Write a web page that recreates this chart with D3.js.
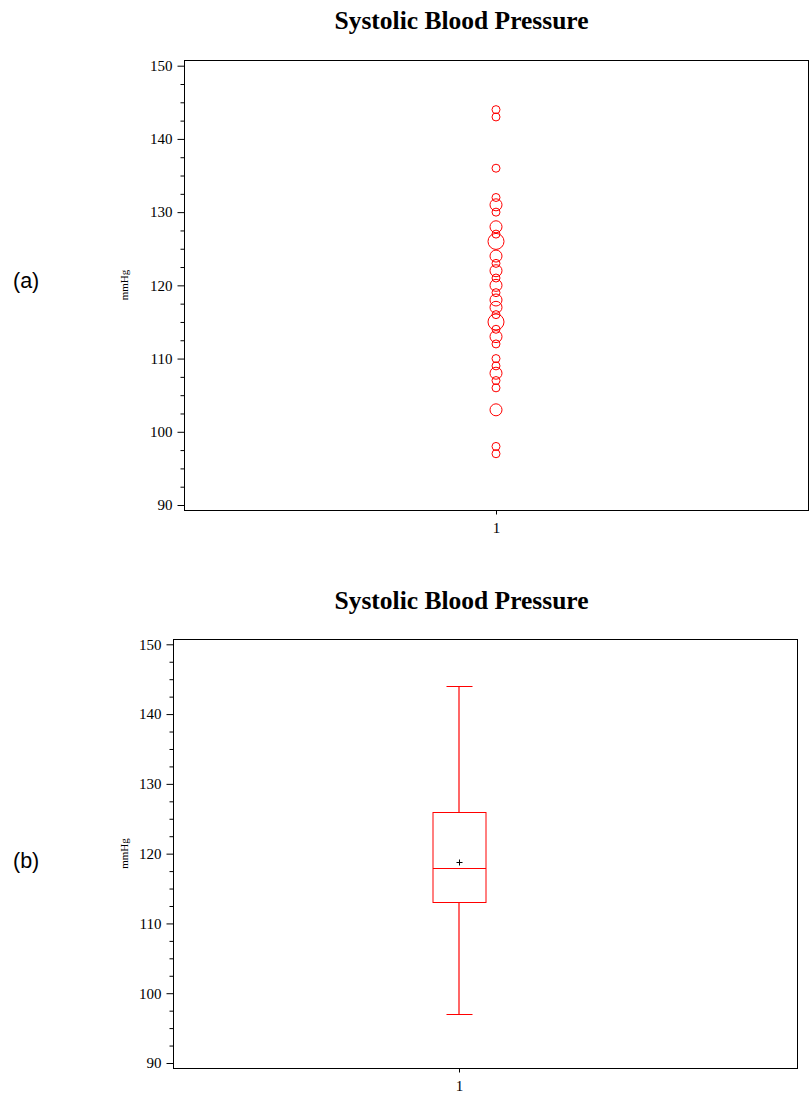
<!DOCTYPE html>
<html>
<head>
<meta charset="utf-8">
<script src="https://cdn.jsdelivr.net/npm/d3@7/dist/d3.min.js"></script>
<style>
  html, body { margin: 0; padding: 0; background: #fff; }
  svg { display: block; }
</style>
</head>
<body>
<svg id="chart" width="809" height="1104"></svg>
<script>
// ---------------- DATA ----------------
const title = "Systolic Blood Pressure";
const yLabel = "mmHg";
const categories = ["1"];
const majorTicks = [90, 100, 110, 120, 130, 140, 150];
// scatter: distinct observed values and how many times each occurs
const bpValues = [144, 143, 136, 132, 131, 130, 128, 127, 126, 124, 123, 122, 121, 120, 119,
                  118, 117, 116, 115, 114, 113, 112, 110, 109, 108, 107, 106, 103, 98, 97];
const bpCounts = [1, 1, 1, 1, 2, 1, 2, 1, 3, 2, 1, 2, 1, 2, 1,
                  2, 2, 1, 3, 1, 2, 1, 1, 1, 2, 1, 1, 2, 1, 1];
// box plot summary
const boxMin = [97];
const boxQ1 = [113];
const boxMedian = [118];
const boxQ3 = [126];
const boxMax = [144];
const boxMean = [118.8];

// ---------------- DRAW ----------------
const svg = d3.select("#chart");
const red = "#ff0000";
const serif = "'Liberation Serif', 'Times New Roman', serif";
const sans = "'Liberation Sans', Arial, sans-serif";
const minorTicks = d3.range(90, 150.01, 2.5).filter(v => !majorTicks.includes(v));

function panel(cfg) {
  const g = svg.append("g");
  const y = d3.scaleLinear().domain([90, 150]).range([cfg.y90, cfg.y150]);
  const x = d3.scalePoint().domain(categories).range([cfg.left, cfg.catRight]);

  // title
  g.append("text").attr("x", 461.5).attr("y", cfg.titleY)
    .attr("text-anchor", "middle").attr("font-family", serif)
    .attr("font-weight", "bold").attr("font-size", 25.5).text(title);

  // panel letter
  g.append("text").attr("x", 13).attr("y", cfg.letterY)
    .attr("font-family", sans).attr("font-size", 21.5).text(cfg.letter);

  // frame
  g.append("rect").attr("x", cfg.left + 0.5).attr("y", cfg.top + 0.5)
    .attr("width", cfg.right - cfg.left - 1).attr("height", cfg.bottom - cfg.top)
    .attr("fill", "none").attr("stroke", "#000").attr("stroke-width", 1);

  // y axis major
  const yAxis = d3.axisLeft(y).tickValues(majorTicks).tickSize(7).tickPadding(5).tickFormat(d3.format("d"));
  const ya = g.append("g").attr("transform", `translate(${cfg.left + 0.5},0)`).call(yAxis);
  ya.select(".domain").remove();
  ya.selectAll("text").attr("font-family", serif).attr("font-size", 15).attr("fill", "#000");
  ya.selectAll("line").attr("stroke", "#000");
  // y axis minor
  const yMinor = d3.axisLeft(y).tickValues(minorTicks).tickSize(4).tickFormat("");
  const ym = g.append("g").attr("transform", `translate(${cfg.left + 0.5},0)`).call(yMinor);
  ym.select(".domain").remove();
  ym.selectAll("line").attr("stroke", "#000");

  // x axis
  const xAxis = d3.axisBottom(x).tickSize(4).tickPadding(8);
  const xa = g.append("g").attr("transform", `translate(0,${cfg.bottom + 0.5})`).call(xAxis);
  xa.select(".domain").remove();
  xa.selectAll("text").attr("font-family", serif).attr("font-size", 15).attr("fill", "#000");
  xa.selectAll("line").attr("stroke", "#000");

  // y label
  g.append("text")
    .attr("transform", `translate(${cfg.labelX},${(cfg.top + cfg.bottom) / 2}) rotate(-90)`)
    .attr("text-anchor", "middle").attr("font-family", serif).attr("font-size", 11)
    .text(yLabel);

  return { g, x, y };
}

// (a) bubble/scatter
const a = panel({ letter: "(a)", letterY: 288, titleY: 29, left: 184, right: 809, catRight: 808,
                  top: 60, bottom: 510, y90: 505, y150: 65.7, labelX: 128 });
const rScale = d3.scaleLinear().domain([1, 3]).range([4, 8]);
a.g.append("g").selectAll("circle")
  .data(bpValues.map((v, i) => ({ v, c: bpCounts[i] })))
  .join("circle")
  .attr("cx", a.x(categories[0]))
  .attr("cy", d => a.y(d.v))
  .attr("r", d => rScale(d.c))
  .attr("fill", "none").attr("stroke", red).attr("stroke-width", 1);

// (b) box plot
const b = panel({ letter: "(b)", letterY: 868, titleY: 609, left: 173, right: 798, catRight: 745,
                  top: 639, bottom: 1068, y90: 1063, y150: 644.3, labelX: 128 });
const boxHalf = 26.5, capHalf = 13;
const bg = b.g.append("g");
function seg(x1, y1, x2, y2, w) {
  bg.append("path").attr("d", `M${x1},${y1}L${x2},${y2}`)
    .attr("fill", "none").attr("stroke", red).attr("stroke-width", w || 1);
}
categories.forEach((c, i) => {
  const cx = Math.round(b.x(c)) + 0.5;
  const Y = v => Math.round(b.y(v)) + 0.5;
  // whiskers
  seg(cx - 0.5, Y(boxMax[i]), cx - 0.5, Y(boxQ3[i]), 1.2);
  seg(cx - 0.5, Y(boxQ1[i]), cx - 0.5, Y(boxMin[i]), 1.2);
  seg(cx - capHalf, Y(boxMax[i]), cx + capHalf, Y(boxMax[i]));
  seg(cx - capHalf, Y(boxMin[i]), cx + capHalf, Y(boxMin[i]));
  // box
  bg.append("rect").attr("x", cx - boxHalf).attr("y", Y(boxQ3[i]))
    .attr("width", boxHalf * 2).attr("height", Y(boxQ1[i]) - Y(boxQ3[i]))
    .attr("fill", "none").attr("stroke", red).attr("stroke-width", 1);
  seg(cx - boxHalf, Y(boxMedian[i]), cx + boxHalf, Y(boxMedian[i]));
  // mean marker
  const my = Y(boxMean[i]);
  b.g.append("path").attr("d", `M${cx - 3},${my}H${cx + 3}M${cx},${my - 3}V${my + 3}`)
    .attr("stroke", "#000").attr("stroke-width", 1).attr("fill", "none");
});
</script>
</body>
</html>
